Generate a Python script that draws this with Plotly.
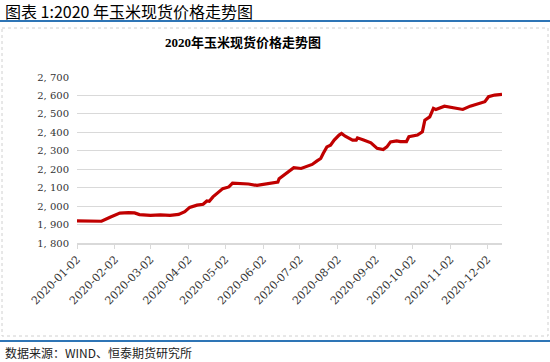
import plotly.graph_objects as go

dates = [
    "2020-01-02", "2020-01-13", "2020-01-22", "2020-01-29", "2020-02-06", "2020-02-13",
    "2020-02-18", "2020-02-22", "2020-03-02", "2020-03-10", "2020-03-18", "2020-03-25",
    "2020-03-30", "2020-04-03", "2020-04-09", "2020-04-14", "2020-04-17", "2020-04-19",
    "2020-04-22", "2020-04-30", "2020-05-05", "2020-05-08", "2020-05-14", "2020-05-21",
    "2020-05-28", "2020-06-06", "2020-06-14", "2020-06-15", "2020-06-22", "2020-06-27",
    "2020-07-03", "2020-07-07", "2020-07-12", "2020-07-16", "2020-07-19", "2020-07-21",
    "2020-07-24", "2020-07-27", "2020-07-30", "2020-08-03", "2020-08-05", "2020-08-08",
    "2020-08-14", "2020-08-17", "2020-08-18", "2020-08-23", "2020-08-29", "2020-09-03",
    "2020-09-08", "2020-09-11", "2020-09-14", "2020-09-19", "2020-09-22", "2020-09-27",
    "2020-09-29", "2020-10-06", "2020-10-10", "2020-10-12", "2020-10-16", "2020-10-19",
    "2020-10-21", "2020-10-28", "2020-11-04", "2020-11-12", "2020-11-18", "2020-11-26",
    "2020-11-30", "2020-12-03", "2020-12-08", "2020-12-14",
]
prices = [
    1920, 1918, 1918, 1940, 1962, 1965,
    1963, 1954, 1950, 1953, 1950, 1955,
    1970, 1993, 2005, 2010, 2028, 2026,
    2050, 2095, 2104, 2125, 2124, 2120,
    2112, 2120, 2130, 2148, 2186, 2208,
    2204, 2213, 2226, 2245, 2258, 2285,
    2321, 2330, 2358, 2385, 2394, 2379,
    2358, 2358, 2370, 2358, 2343, 2313,
    2307, 2321, 2348, 2354, 2350, 2350,
    2376, 2385, 2403, 2466, 2484, 2530,
    2524, 2542, 2533, 2524, 2542, 2557,
    2566, 2593, 2602, 2606,
]
tick_dates = ["2020-%02d-02" % m for m in range(1, 13)]
y_ticks = [1800, 1900, 2000, 2100, 2200, 2300, 2400, 2500, 2600, 2700]

header = "图表 1:2020 年玉米现货价格走势图"
chart_title = "2020年玉米现货价格走势图"
source = "数据来源：WIND、恒泰期货研究所"

L, R, T, B = 77, 48, 77, 119
W, H = 550, 362
pw, ph = W - L - R, H - T - B

def px(x):
    return (x - L) / pw

def py(y):
    return (H - B - y) / ph

fig = go.Figure()
fig.add_trace(go.Scatter(
    x=dates, y=prices, mode="lines",
    line=dict(color="#C00000", width=3.2),
    hoverinfo="skip",
))

serif = "DejaVu Serif, Noto Sans CJK SC, serif"
serif2 = "Liberation Serif, Noto Sans CJK SC, serif"
cjk = "Noto Sans CJK SC, sans-serif"

fig.update_layout(
    width=W, height=H,
    margin=dict(l=L, r=R, t=T, b=B),
    paper_bgcolor="white", plot_bgcolor="white",
    showlegend=False,
    xaxis=dict(
        type="date",
        range=["2020-01-02", "2020-12-14"],
        tickvals=tick_dates, ticktext=tick_dates,
        tickangle=-45,
        tickfont=dict(family=serif, size=11, color="#333"),
        showgrid=False, zeroline=False,
        showline=True, linecolor="#D9D9D9", linewidth=1.5,
        ticks="outside", ticklen=4, tickcolor="#D9D9D9",
    ),
    yaxis=dict(
        range=[1800, 2700],
        tickvals=y_ticks, ticktext=["{:,}".format(v).replace(",", ", ") for v in y_ticks],
        tickfont=dict(family=serif, size=10, color="#333"),
        ticklabelstandoff=7,
        showgrid=True, gridcolor="#D9D9D9", gridwidth=1.2,
        zeroline=False, showline=False, ticks="",
    ),
    annotations=[
        dict(text=header, x=px(3), y=py(11), xref="paper", yref="paper",
             xanchor="left", yanchor="middle", showarrow=False,
             font=dict(family=cjk, size=16, color="#000")),
        dict(text="<b>" + chart_title + "</b>", x=px(243), y=py(42), xref="paper", yref="paper",
             xanchor="center", yanchor="middle", showarrow=False,
             font=dict(family=serif2, size=13, color="#000")),
        dict(text=source, x=px(3), y=py(352), xref="paper", yref="paper",
             xanchor="left", yanchor="middle", showarrow=False,
             font=dict(family=cjk, size=12, color="#222")),
    ],
    shapes=[
        dict(type="line", xref="paper", yref="paper", x0=px(0), x1=px(550), y0=py(21), y1=py(21),
             line=dict(color="#2E75B6", width=2)),
        dict(type="line", xref="paper", yref="paper", x0=px(0), x1=px(550), y0=py(341), y1=py(341),
             line=dict(color="#2E75B6", width=2)),
        dict(type="rect", xref="paper", yref="paper", x0=px(2), x1=px(548), y0=py(28), y1=py(336),
             line=dict(color="#D0D0D0", width=1, dash="dot"), layer="below"),
    ],
)

fig.write_html("out.html")
